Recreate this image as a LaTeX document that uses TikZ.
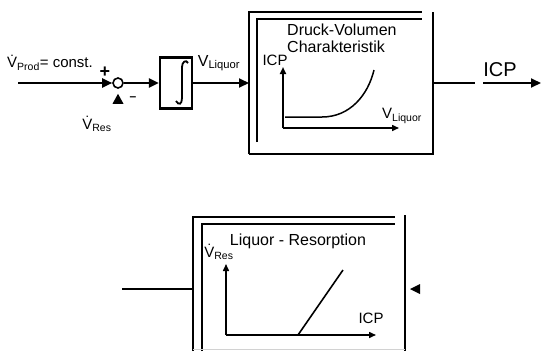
\documentclass[tikz,border=0pt]{standalone}
\usepackage{fontspec}
\setmainfont{Liberation Sans}
\usetikzlibrary{arrows.meta}
\tikzset{
  line/.style={line width=2pt},
  arr/.style={line width=2pt, -{Triangle[length=10pt,width=9pt]}},
  axis/.style={line width=1.5pt, -{Triangle[length=7pt,width=6pt]}},
  frame/.style={line width=2.2pt},
  lbl/.style={inner sep=0pt, font=\fontsize{16}{16.5}\selectfont},
  small/.style={inner sep=0pt, font=\fontsize{15}{15}\selectfont},
}
\newcommand{\Vdot}{\.{V}}

\begin{document}
\begin{tikzpicture}[x=1pt,y=-1pt]
\useasboundingbox (0,0) rectangle (541,351);

% Define coordinates
\coordinate (A) at (18,83); % start of the input
\coordinate (PVin) at (249,83); % input of the pressure-volume block
\coordinate (PVout) at (433,83); % output of the pressure-volume block
\coordinate (G1) at (475,83); % end of the output line
\coordinate (G2) at (483,83); % start of the output arrow
\coordinate (E) at (541,83); % end of the output arrow
\coordinate (Rin) at (192,289); % left side of the resorption block
\coordinate (Rout) at (122,289); % free end of the resorption line

% Summing point and integrator
\node[draw, circle, line width=1.6pt, minimum size=10pt, inner sep=0pt] (S) at (118,83) {};
\node[draw, line width=2.2pt, minimum width=32pt, minimum height=51pt, inner sep=0pt] (I) at (176,83) {};
\draw[line width=1.8pt] (188,63) .. controls (186,59) and (182,62) .. (182,67) -- (182,98) .. controls (182,104) and (179,106) .. (176,101);

% Signals
\draw[arr] (A) -- (S);
\draw[arr] (S) -- (I);
\draw[arr] (I) -- (PVin);
\fill (S.south) ++(0,5) -- ++(-5.5,10) -- ++(11,0) -- cycle;
\node[small, font=\fontsize{18}{18}\selectfont\bfseries] (plus) at (105,72) {+};
\node[small, font=\fontsize{12}{12}\selectfont\bfseries] (minus) at (133,99) {--};
\node[small, anchor=west] (Vprod) at (7,63) {\Vdot\textsubscript{Prod}= const.};
\node[small] (Vres) at (97,124) {\Vdot\textsubscript{Res}};
\node[lbl] (Vliq) at (219,63) {V\textsubscript{Liquor}};

% Pressure-volume block
\draw[frame] (249,154) -- (249,12) -- (422,12);
\draw[frame] (257,142) -- (257,19) -- (422,19);
\draw[frame] (433,12) -- (433,155);
\draw[frame] (249,154) -- (433,154);
\node[lbl, anchor=north west, align=left] (PVtitle) at (287,24) {Druck-Volumen\\Charakteristik};
\coordinate (O1) at (283,128);
\coordinate (Y1) at (283,67);
\coordinate (X1) at (399,128);
\draw[axis, line width=2pt] (O1) -- (Y1);
\draw[axis] (O1) -- (X1);
\draw[line width=1.5pt] (285,117) -- (322,117) .. controls (350,117) and (368,95) .. (374,70);
\node[small] (ICP1) at (275,60) {ICP};
\node[small] (VL1) at (402,116) {V\textsubscript{Liquor}};

% Output
\draw[line] (PVout) -- (G1);
\draw[arr] (G2) -- (E);
\node[inner sep=0pt, font=\fontsize{20}{20}\selectfont] (ICP) at (500,70) {ICP};

% Resorption block
\draw[frame] (193,351) -- (193,217) -- (395,217);
\draw[frame] (202,351) -- (202,224) -- (395,224);
\draw[frame] (405,215) -- (405,351);
\draw[line width=0.8pt, gray!35] (193,349) -- (405,349);
\node[lbl] (Rtitle) at (298,241) {Liquor - Resorption};
\node[small] (Vres2) at (219,252) {\Vdot\textsubscript{Res}};
\coordinate (O2) at (226,335);
\coordinate (Y2) at (226,264);
\coordinate (X2) at (376,335);
\draw[axis] (O2) -- (Y2);
\draw[axis] (O2) -- (X2);
\draw[line width=1.6pt] (298,335) -- (343,270);
\node[small] (ICP2) at (371,318) {ICP};
\draw[line] (Rin) -- (Rout);
\fill (410,289) -- (420,284) -- (420,294) -- cycle;

\end{tikzpicture}
\end{document}
